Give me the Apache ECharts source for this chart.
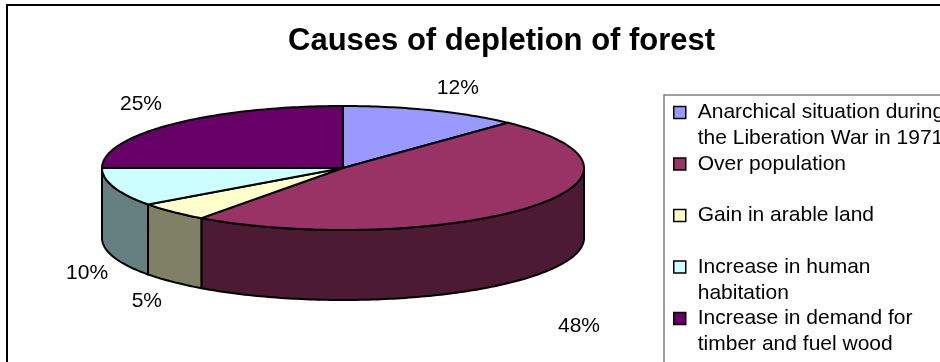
<!DOCTYPE html>
<html>
<head>
<meta charset="utf-8">
<title>Causes of depletion of forest</title>
<script src="https://cdn.jsdelivr.net/npm/echarts@6/dist/echarts.min.js"></script>
<style>
  html, body { margin: 0; padding: 0; background: #fff; }
  #chart { width: 940px; height: 362px; }
</style>
</head>
<body>
<div id="chart"></div>
<script>
'use strict';

// data
var causes = [
  'Anarchical situation during\nthe Liberation War in 1971',
  'Over population',
  'Gain in arable land',
  'Increase in human\nhabitation',
  'Increase in demand for\ntimber and fuel wood'
];
var shares = [12, 48, 5, 10, 25];

// look of the slices (top face / side wall)
var topColors = ['#9999ff', '#993366', '#ffffcc', '#ccffff', '#660066'];
var sideColors = ['#4d4d80', '#4d1a33', '#808066', '#668080', '#330033'];
// how far each percent label sits out from the rim [sideways, up/down]
var labelGaps = [[14, 14], [38, 63], [15, 15], [6, 23], [15, 15]];

// 3d pie layout: centre, radii of the ellipse, height of the wall
var cx = 343, cy = 168, rx = 241, ry = 62, depth = 70;
var font = '"Liberation Sans", Arial, sans-serif';

var total = 0;
shares.forEach(function (v) { total += v; });
var startAngles = [];
var acc = 0;
shares.forEach(function (v) {
  startAngles.push(acc / total * 360);
  acc += v;
});

// angle in degrees, clockwise from 12 o'clock
function pt(deg, dy) {
  var r = deg * Math.PI / 180;
  return [cx + rx * Math.sin(r), cy - ry * Math.cos(r) + (dy || 0)];
}

function renderSlice(idx) {
  return function (params, api) {
    var value = api.value(0);
    var a0 = startAngles[idx];
    var a1 = a0 + value / total * 360;
    var children = [];
    var a;

    // front wall, only the part facing the viewer (90..270)
    var w0 = Math.max(a0, 90), w1 = Math.min(a1, 270);
    if (w1 > w0) {
      var wall = [];
      for (a = w0; a < w1; a += 1) wall.push(pt(a));
      wall.push(pt(w1));
      for (a = w1; a > w0; a -= 1) wall.push(pt(a, depth));
      wall.push(pt(w0, depth));
      children.push({
        type: 'polygon',
        shape: { points: wall },
        style: { fill: sideColors[idx], stroke: '#000', lineWidth: 2, lineJoin: 'round' }
      });
    }

    // top face
    var top = [[cx, cy]];
    for (a = a0; a < a1; a += 1) top.push(pt(a));
    top.push(pt(a1));
    children.push({
      type: 'polygon',
      shape: { points: top },
      style: { fill: topColors[idx], stroke: '#000', lineWidth: 2, lineJoin: 'round' }
    });

    // percent label outside the slice
    var mid = (a0 + a1) / 2;
    var r = mid * Math.PI / 180;
    var s = Math.sin(r), c = Math.cos(r);
    var e = pt(mid, c < 0 ? depth : 0);
    var g = labelGaps[idx];
    children.push({
      type: 'text',
      style: {
        text: Math.round(value / total * 100) + '%',
        x: e[0] + s * g[0],
        y: e[1] - c * g[1] + (c >= 0 ? -9 : 9),
        align: s >= 0 ? 'left' : 'right',
        verticalAlign: 'middle',
        fontSize: 21,
        fontFamily: font,
        fill: '#000'
      }
    });

    return { type: 'group', children: children };
  };
}

var series = causes.map(function (name, i) {
  return {
    type: 'custom',
    name: name,
    coordinateSystem: 'none',
    silent: true,
    itemStyle: { color: topColors[i] },
    data: [shares[i]],
    renderItem: renderSlice(i)
  };
});

var myChart = echarts.init(document.getElementById('chart'), null, { renderer: 'canvas' });
myChart.setOption({
  animation: false,
  backgroundColor: '#fff',
  title: {
    text: 'Causes of depletion of forest',
    left: 288,
    top: 26,
    padding: 0,
    textStyle: { fontSize: 31, fontWeight: 'bold', fontFamily: font, color: '#000' }
  },
  legend: {
    orient: 'vertical',
    left: 673,
    top: 102,
    padding: 0,
    itemGap: 4.5,
    itemWidth: 12,
    itemHeight: 12,
    icon: 'rect',
    selectedMode: false,
    itemStyle: { borderColor: '#000', borderWidth: 1.5 },
    // every entry takes two lines, icon sits on the first one
    formatter: function (name) {
      var lines = name.split('\n');
      if (lines.length < 2) lines.push(' ');
      return lines.map(function (l) { return '{t|' + l + '}'; }).join('\n');
    },
    textStyle: {
      padding: [26, 0, 0, 7],
      rich: {
        t: { fontSize: 21, lineHeight: 26, fontFamily: font, color: '#000' }
      }
    },
    data: causes
  },
  graphic: [{
    type: 'rect',
    shape: { x: 7, y: 5, width: 1000, height: 400 },
    style: { fill: 'none', stroke: '#000', lineWidth: 2 },
    silent: true
  }, {
    type: 'rect',
    shape: { x: 664, y: 95, width: 400, height: 400 },
    style: { fill: 'none', stroke: '#808080', lineWidth: 1.5 },
    silent: true
  }],
  series: series
});
</script>
</body>
</html>
